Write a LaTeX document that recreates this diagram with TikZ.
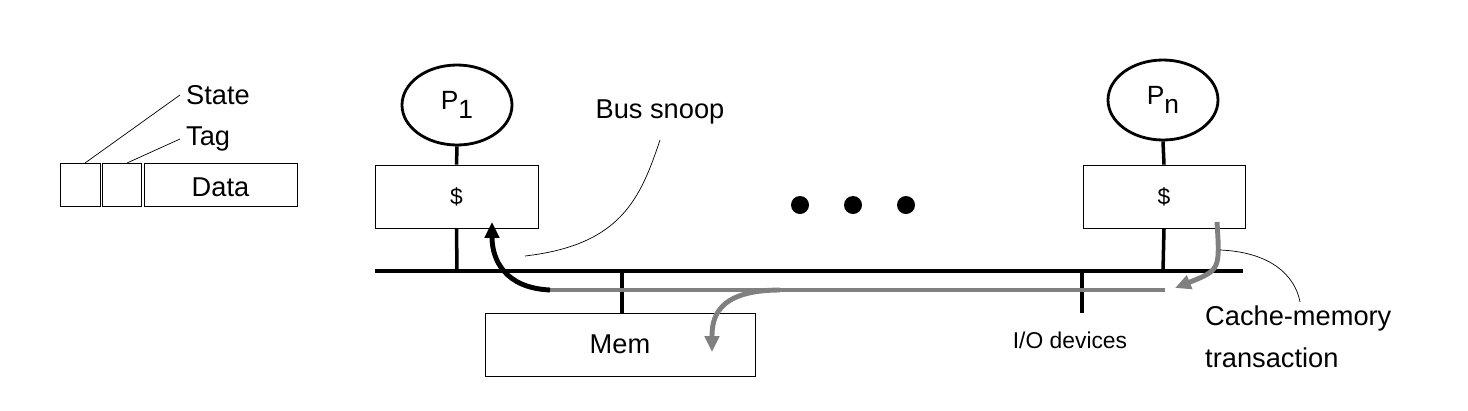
\documentclass[tikz,border=0pt]{standalone}
\usepackage{fontspec}
\setmainfont{Liberation Sans}
\usetikzlibrary{arrows.meta,positioning,shapes.geometric}
\begin{document}
\begin{tikzpicture}[x=0.02cm,y=-0.02cm,
      box_st/.style={
         draw=black,
         inner sep=0pt,
         font=\fontsize{13}{15}\selectfont},
      proc_st/.style={
         ellipse,
         draw=black,
         line width=1.6pt,
         minimum width=110*0.02cm,
         minimum height=80*0.02cm,
         inner sep=0pt,
         font=\fontsize{15}{17}\selectfont},
      label_st/.style={
         font=\fontsize{15.5}{24}\selectfont},
      stub/.style={line width=2pt},
      flow_gray/.style={
         draw=gray,
         line width=2.8pt},
      arrow_gray/.style={
         flow_gray,
         -{Triangle[length=9pt,width=8pt]}},
      arrow_black/.style={
         line width=2.8pt,
         -{Triangle[length=9pt,width=8pt]}},
]
      \useasboundingbox (0,0) rectangle (1468,410);

      %cache line
      \node[box_st,minimum width=40*0.02cm,minimum height=43*0.02cm] (st) at (80,184.5) {};
      \node[box_st,minimum width=39*0.02cm,minimum height=43*0.02cm] (tg) at (121.5,184.5) {};
      \node[box_st,minimum width=153*0.02cm,minimum height=43*0.02cm,label_st,text depth=0pt] (dt) at (220.5,184.5) {\raisebox{-0.3ex}{Data}};
      \node[label_st,anchor=west] (stl) at (180,95) {State};
      \node[label_st,anchor=west] (tgl) at (180,139) {Tag};
      \draw (85,163) -- (stl.west);
      \draw (127,163) -- (tgl.west);

      %processors and caches
      \node[proc_st] (p1) at (457,105) {P\raisebox{-0.6ex}{1}};
      \node[proc_st] (pn) at (1163,100) {P\raisebox{-0.6ex}{n}};
      \node[box_st,minimum width=163*0.02cm,minimum height=63*0.02cm] (c1) at (456.5,196.5) {\$};
      \node[box_st,minimum width=162*0.02cm,minimum height=63*0.02cm] (cn) at (1164,196.5) {\$};

      %bus
      \coordinate (bl) at (375,271);
      \coordinate (br) at (1243,271);
      \draw[line width=2.8pt] (bl) -- (br);
      \node[box_st,minimum width=270*0.02cm,minimum height=63*0.02cm,label_st] (mem) at (620,344.5) {\raisebox{-0.8ex}{Mem}};
      \coordinate (io) at (1082,313);
      \node[box_st,draw=none,font=\fontsize{13}{15}\selectfont] (iol) at (1070,340) {I/O devices};

      \draw[stub] (p1.south) -- (c1.north);
      \draw[stub] (pn.south) -- (cn.north);
      \draw[stub] (c1.south) -- (457,271);
      \draw[stub] (cn.south) -- (1163,271);
      \draw[stub] (622,271) -- (622,313);
      \draw[stub] (1082,271) -- (io);

      \foreach \x in {800,853,906}
         \fill (\x,205) circle[radius=9*0.02cm];

      %transaction
      \coordinate (t0) at (550,290);
      \coordinate (t1) at (1165,290);
      \draw[flow_gray] (t0) -- (t1);
      \draw[arrow_gray] (1217,222) .. controls (1220,270) .. (1175,288);
      \draw[arrow_gray] (780,290) .. controls (715,290) and (712,320) .. (712,352);
      \draw[arrow_black] (t0) .. controls (505,288) and (492,260) .. (492,222);

      %labels
      \node[label_st] (snoop) at (660,112) {Bus snoop};
      \draw (525,256) .. controls (620,245) and (640,200) .. (660,140);
      \node[label_st,anchor=west,align=left] (cm) at (1199,337) {Cache-memory\\transaction};
      \draw (1220,250) .. controls (1270,252) and (1295,275) .. (1300,302);
\end{tikzpicture}
\end{document}
